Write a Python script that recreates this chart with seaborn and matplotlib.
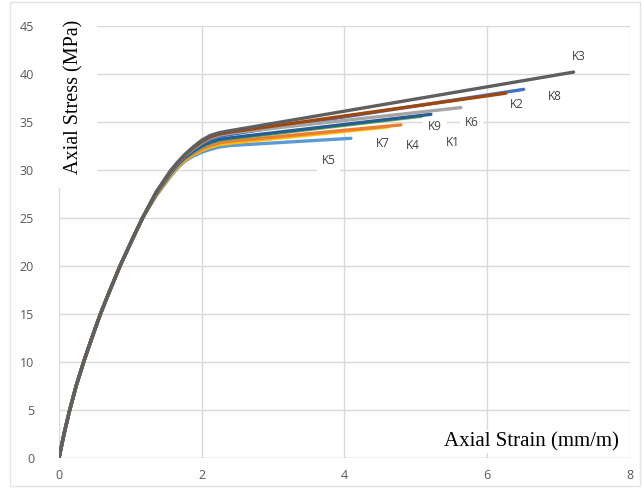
import matplotlib
matplotlib.use("Agg")
import matplotlib.pyplot as plt
import matplotlib.patches as mpatches
import seaborn as sns
import pandas as pd

# ---------------- data ----------------
specimens = ["K5", "K7", "K4", "K1", "K9", "K8", "K6", "K2", "K3"]

# common elastic branch
rise_strain = [0.0, 0.07, 0.15, 0.24, 0.345, 0.46, 0.58, 0.715, 0.855, 1.01, 1.17]
rise_stress = [0.0, 2.5, 5.0, 7.5, 10.0, 12.5, 15.0, 17.5, 20.0, 22.5, 25.0]

# knee region, per specimen
knee_strain = [1.36, 1.56, 1.66, 1.76, 1.88, 2.00, 2.12, 2.25, 2.40]
knee_stress = {
    "K3": [27.70, 29.90, 30.80, 31.60, 32.40, 33.10, 33.60, 33.90, 34.10],
    "K2": [27.65, 29.85, 30.75, 31.55, 32.30, 32.95, 33.45, 33.75, 33.95],
    "K6": [27.60, 29.80, 30.70, 31.50, 32.20, 32.85, 33.35, 33.65, 33.85],
    "K8": [27.60, 29.75, 30.65, 31.45, 32.15, 32.75, 33.20, 33.50, 33.70],
    "K9": [27.50, 29.65, 30.55, 31.30, 31.95, 32.50, 32.90, 33.20, 33.35],
    "K1": [27.50, 29.60, 30.50, 31.25, 31.85, 32.40, 32.80, 33.10, 33.25],
    "K4": [27.40, 29.50, 30.40, 31.10, 31.70, 32.20, 32.55, 32.85, 33.00],
    "K7": [27.35, 29.40, 30.30, 31.00, 31.60, 32.05, 32.40, 32.65, 32.80],
    "K5": [27.30, 29.30, 30.20, 30.90, 31.45, 31.85, 32.15, 32.40, 32.55],
}
end_strain = {"K3": 7.21, "K2": 6.26, "K6": 5.63, "K8": 6.51, "K9": 5.21,
              "K1": 5.08, "K4": 4.79, "K7": 4.62, "K5": 4.09}
end_stress = {"K3": 40.2, "K2": 38.0, "K6": 36.5, "K8": 38.4, "K9": 35.8,
              "K1": 35.6, "K4": 34.7, "K7": 34.5, "K5": 33.3}

label_pos = {"K3": (7.28, 41.8), "K8": (6.94, 37.7), "K2": (6.41, 36.8),
             "K6": (5.78, 35.0), "K9": (5.27, 34.5), "K1": (5.52, 32.9),
             "K4": (4.96, 32.6), "K7": (4.53, 32.8), "K5": (3.78, 31.0)}

palette = {"K3": "#5f5f5f", "K2": "#9e480e", "K6": "#a5a5a5", "K8": "#4472c4",
           "K9": "#255e91", "K1": "#70ad47", "K4": "#ed7d31", "K7": "#ffc000",
           "K5": "#5b9bd5"}

x_ticks = [0, 2, 4, 6, 8]
y_ticks = [0, 5, 10, 15, 20, 25, 30, 35, 40, 45]

rows = []
for k in specimens:
    xs = rise_strain + knee_strain + [end_strain[k]]
    ys = rise_stress + knee_stress[k] + [end_stress[k]]
    for i, (a, b) in enumerate(zip(xs, ys)):
        rows.append({"specimen": k, "order": i, "strain": a, "stress": b})
df = pd.DataFrame(rows)

# ---------------- figure ----------------
sns.set_style("white")
plt.rcParams["font.family"] = ["Open Sans", "DejaVu Sans"]

fig = plt.figure(figsize=(6.43, 4.88), dpi=100)
ax = fig.add_axes([59 / 643, 1 - 458 / 488, (630 - 59) / 643, (458 - 26) / 488])

grid_c = "#d9d9d9"
for xv in x_ticks:
    ax.axvline(xv, color=grid_c, lw=1.0, zorder=0.5)
for yv in y_ticks:
    ax.axhline(yv, color="#bfbfbf" if yv == 0 else grid_c, lw=1.0, zorder=0.5)

sns.lineplot(data=df, x="strain", y="stress", hue="specimen",
             hue_order=specimens, palette=palette, sort=False,
             estimator=None, units="specimen", lw=2.4, legend=False,
             ax=ax, zorder=3)

ax.set_xlim(0, 8)
ax.set_ylim(0, 45)
ax.set_xticks(x_ticks)
ax.set_yticks(y_ticks)
ax.tick_params(axis="both", length=0, labelsize=9, labelcolor="#595959")
ax.tick_params(axis="y", pad=18)
ax.tick_params(axis="x", pad=8)
ax.set_xlabel("")
ax.set_ylabel("")
for s in ax.spines.values():
    s.set_visible(False)

# white box behind the y-axis title
ax.add_patch(mpatches.Rectangle((-0.03, 28.1), 0.56, 18.5, facecolor="white",
                                edgecolor="none", zorder=1, clip_on=False))
ax.text(0.21, 37.6, "Axial Stress (MPa)", rotation=90, ha="center", va="center",
        fontsize=14.5, family="Liberation Serif", color="black", zorder=2)

ax.text(6.62, 1.7, "Axial Strain (mm/m)", ha="center", va="center",
        fontsize=15, family="Liberation Serif", color="black", zorder=2,
        bbox=dict(boxstyle="square,pad=0.1", fc="white", ec="none"))

for k, (lx, ly) in label_pos.items():
    ax.text(lx, ly, k, ha="center", va="center", fontsize=8.5, color="#404040",
            zorder=2, bbox=dict(boxstyle="square,pad=0.4", fc="white", ec="none"))

# outer chart border
fig.patches.append(mpatches.Rectangle((10 / 643, 2 / 488), 630 / 643, 484 / 488,
                                      transform=fig.transFigure, fill=False,
                                      edgecolor="#e3e3e3", lw=1.0))

fig.savefig("out.png", dpi=100)
